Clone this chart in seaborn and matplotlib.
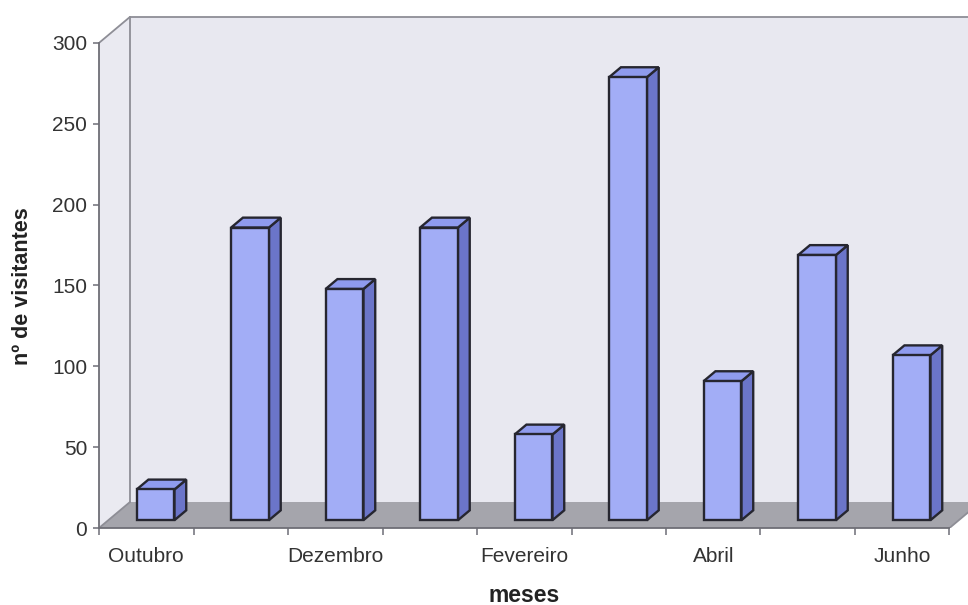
import numpy as np
import pandas as pd
import matplotlib
matplotlib.use("Agg")
import matplotlib.pyplot as plt
from matplotlib.patches import Polygon
import seaborn as sns

# Monthly visitor counts
meses = ["Outubro", "Novembro", "Dezembro", "Janeiro", "Fevereiro",
         "Março", "Abril", "Maio", "Junho"]
visitantes = [19, 181, 143, 181, 53, 274, 86, 164, 102]
rotulos_visiveis = ["Outubro", "Dezembro", "Fevereiro", "Abril", "Junho"]
y_ticks = [0, 50, 100, 150, 200, 250, 300]

df = pd.DataFrame({"mes": meses, "visitantes": visitantes})

sns.set_theme(style="white")
plt.rcParams["font.family"] = ["Liberation Sans", "DejaVu Sans"]

W, H = 968, 605
fig = plt.figure(figsize=(W / 100, H / 100), dpi=100)
fig.patch.set_facecolor("white")

# pixel geometry of the front plane
x_left_px, x_unit_px = 99, 94.5
y_zero_px, y_unit_px = 528, 1.617
y_top = 318.0
x_right = -0.5 + (W - x_left_px) / x_unit_px
ax = fig.add_axes([x_left_px / W, (H - y_zero_px) / H,
                   (W - x_left_px) / W, y_top * y_unit_px / H])

# oblique depth offset (data units) of the back plane
DX, DY = 31 / x_unit_px, 26 / y_unit_px
T0, T1 = 0.30, 0.68          # bar depth span as fraction of DX/DY
bar_w = 0.40

wall_c = "#E8E8F0"
side_wall_c = "#EAEAF1"
floor_c = "#A5A5AC"
frame_c = "#8E8E96"
front_c = "#A2ADF6"
side_c = "#6B75C9"
top_c = "#8F9BEE"
edge_c = "#262630"

ax.set_facecolor("white")
n = len(meses)
xr = n - 0.5

# walls and floor
ax.add_patch(Polygon([(-0.5 + DX, DY), (x_right + 1, DY), (x_right + 1, 300 + DY),
                      (-0.5 + DX, 300 + DY)], closed=True, facecolor=wall_c,
                     edgecolor="none", zorder=0.5))
ax.add_patch(Polygon([(-0.5, 0), (-0.5 + DX, DY), (-0.5 + DX, 300 + DY), (-0.5, 300)],
                     closed=True, facecolor=side_wall_c, edgecolor="none", zorder=0.5))
ax.add_patch(Polygon([(-0.5, 0), (xr, 0), (xr + DX, DY), (-0.5 + DX, DY)],
                     closed=True, facecolor=floor_c, edgecolor="none", zorder=0.6))
lw_frame = 1.3
ax.plot([-0.5 + DX, -0.5 + DX], [DY, 300 + DY], color=frame_c, lw=lw_frame, zorder=0.7)
ax.plot([-0.5 + DX, x_right + 1], [300 + DY, 300 + DY], color=frame_c, lw=lw_frame, zorder=0.7)
ax.plot([-0.5, -0.5 + DX], [300, 300 + DY], color=frame_c, lw=lw_frame, zorder=0.7)
ax.plot([-0.5, -0.5 + DX], [0, DY], color=frame_c, lw=lw_frame, zorder=0.7)
ax.plot([xr, xr + DX], [0, DY], color=frame_c, lw=lw_frame, zorder=0.7)

# front faces of the columns
sns.barplot(data=df, x="mes", y="visitantes", order=meses, color=front_c,
            saturation=1, width=bar_w, edgecolor=edge_c, linewidth=1.7,
            ax=ax, zorder=3)

shift_x, shift_y = T0 * DX, T0 * DY
ddx, ddy = (T1 - T0) * DX, (T1 - T0) * DY
for p in ax.patches:
    if not isinstance(p, matplotlib.patches.Rectangle):
        continue
    p.set_x(p.get_x() + shift_x)
    p.set_y(p.get_y() + shift_y)
    p.set_joinstyle("miter")
    x0, x1 = p.get_x(), p.get_x() + p.get_width()
    y0, y1 = p.get_y(), p.get_y() + p.get_height()
    side = Polygon([(x1, y0), (x1 + ddx, y0 + ddy), (x1 + ddx, y1 + ddy), (x1, y1)],
                   closed=True, facecolor=side_c, edgecolor=edge_c, lw=1.7,
                   joinstyle="miter", zorder=2.9)
    top = Polygon([(x0, y1), (x1, y1), (x1 + ddx, y1 + ddy), (x0 + ddx, y1 + ddy)],
                  closed=True, facecolor=top_c, edgecolor=edge_c, lw=1.7,
                  joinstyle="miter", zorder=2.9)
    ax.add_patch(side)
    ax.add_patch(top)

ax.set_xlim(-0.5, x_right)
ax.set_ylim(0, y_top)

# axes lines
for s in ["top", "right"]:
    ax.spines[s].set_visible(False)
ax.spines["left"].set_bounds(0, 300)
ax.spines["bottom"].set_bounds(-0.5, xr)
for s in ["left", "bottom"]:
    ax.spines[s].set_color("#6E6E76")
    ax.spines[s].set_linewidth(1.3)
    ax.spines[s].set_zorder(1)

ax.set_yticks(y_ticks)
ax.set_yticklabels([str(v) for v in y_ticks])
ax.tick_params(axis="y", length=4.5, width=1.1, color="#6E6E76", pad=4,
               labelsize=15, labelcolor="#333333", left=True)

pos_lab = [meses.index(m) for m in rotulos_visiveis]
ax.set_xticks(np.arange(-0.5, n, 1.0))
ax.set_xticklabels([])
ax.set_xticks(pos_lab, minor=True)
ax.set_xticklabels(rotulos_visiveis, minor=True)
ax.tick_params(axis="x", which="major", length=5, width=1.1, color="#6E6E76",
               bottom=True)
ax.tick_params(axis="x", which="minor", length=0, pad=14, labelsize=15,
               labelcolor="#333333")

ax.set_xlabel("")
ax.set_ylabel("")
fig.text(23 / W, 1 - 286 / H, "nº de visitantes", rotation=90, ha="center",
         va="center", fontsize=15.5, fontweight="bold", color="#222222")
fig.text(524 / W, 1 - 595 / H, "meses", ha="center", va="center",
         fontsize=16.5, fontweight="bold", color="#222222")

fig.savefig("out.png", dpi=100, facecolor="white")
